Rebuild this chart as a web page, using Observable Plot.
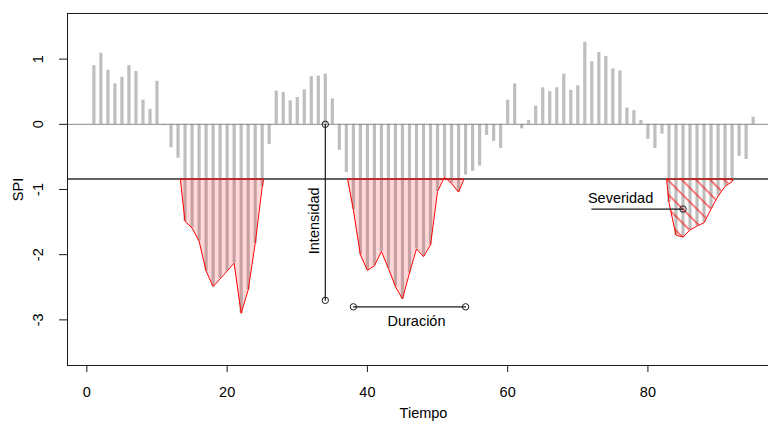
<!DOCTYPE html>
<html>
<head>
<meta charset="utf-8">
<script src="https://cdn.jsdelivr.net/npm/d3@7"></script>
<script src="https://cdn.jsdelivr.net/npm/@observablehq/plot@0.6"></script>
<style>
  body { margin: 0; background: #fff; }
  #chart { width: 768px; height: 421px; overflow: hidden; }
</style>
</head>
<body>
<div id="chart"></div>
<script>
// ---- data ----
const spi = [
  0.90, 1.09, 0.83, 0.62, 0.72, 0.90, 0.81, 0.37, 0.23, 0.66,
  -0.02, -0.36, -0.52, -1.49, -1.59, -1.79, -2.25, -2.49, -2.37, -2.25,
  -2.13, -2.90, -2.54, -1.83, -0.96, -0.31, 0.51, 0.49, 0.36, 0.41,
  0.53, 0.73, 0.74, 0.77, 0.39, -0.40, -0.74, -1.31, -2.00, -2.24,
  -2.17, -1.95, -2.21, -2.49, -2.68, -2.28, -1.91, -2.03, -1.85, -1.03,
  -0.81, -0.91, -1.04, -0.78, -0.72, -0.64, -0.17, -0.26, -0.37, 0.37,
  0.62, -0.07, 0.06, 0.28, 0.56, 0.50, 0.56, 0.77, 0.52, 0.59,
  1.26, 0.96, 1.10, 1.04, 0.85, 0.82, 0.25, 0.21, 0.06, -0.23,
  -0.37, -0.15, -1.20, -1.70, -1.73, -1.62, -1.56, -1.51, -1.30, -1.10,
  -0.95, -0.88, -0.49, -0.54, 0.11
];
const tiempo = spi.map((_, i) => i + 1);
const umbral = -0.84;
const eventoInicio = [14, 38, 83];
const eventoFin = [25, 53, 92];
const eventoTipo = ["relleno", "relleno", "rayado"];
const xTicks = [0, 20, 40, 60, 80];
const yTicks = [-3, -2, -1, 0, 1];
const yLim = [-3.5, 1.5];
const intensidadX = [34, 34];
const intensidadY = [0, -2.7];
const duracionX = [38, 54];
const duracionY = [-2.8, -2.8];
const severidadX = [72, 85];
const severidadY = [-1.3, -1.3];
const etiquetas = ["Intensidad", "Duración", "Severidad"];
const etiquetaX = [32.4, 47, 76.1];
const etiquetaY = [-1.48, -3.03, -1.13];
const etiquetaRot = [-90, 0, 0];

// ---- derived tables ----
const n = spi.length;
const xPad = 0.04 * (n - 1);
const xDominio = [1 - xPad, n + xPad];
const yPad = 0.04 * (yLim[1] - yLim[0]);
const yDominio = [yLim[0] - yPad, yLim[1] + yPad];

const serie = spi.map((v, i) => ({t: tiempo[i], v}));

const poligonos = [];
const cerrados = [];
eventoInicio.forEach((s, k) => {
  const e = eventoFin[k];
  const ya = spi[s - 2], yb = spi[s - 1];
  const x0 = (s - 1) + (umbral - ya) / (yb - ya);
  const yc = spi[e - 1], yd = spi[e];
  const x1 = e + (umbral - yc) / (yd - yc);
  const pts = [{x: x0, y: umbral}];
  for (let i = s; i <= e; i++) pts.push({x: tiempo[i - 1], y: spi[i - 1]});
  pts.push({x: x1, y: umbral});
  pts.forEach(p => { p.ev = k; p.tipo = eventoTipo[k]; p.y1 = umbral; });
  poligonos.push(...pts);
  cerrados.push(...pts, {...pts[0]});
});
const relleno = poligonos.filter(p => p.tipo === "relleno");
const rayado = poligonos.filter(p => p.tipo === "rayado");

const segmentos = [
  ...intensidadX.map((x, i) => ({x, y: intensidadY[i], g: "int"})),
  ...duracionX.map((x, i) => ({x, y: duracionY[i], g: "dur"})),
  ...severidadX.map((x, i) => ({x, y: severidadY[i], g: "sev"}))
];
const circulos = [
  ...intensidadX.map((x, i) => ({x, y: intensidadY[i]})),
  ...duracionX.map((x, i) => ({x, y: duracionY[i]})),
  {x: severidadX[1], y: severidadY[1]}
];
const textos = etiquetas.map((t, i) => ({t, x: etiquetaX[i], y: etiquetaY[i], r: etiquetaRot[i]}));

const FS = 14.5;
const TXT = {fontSize: FS, fill: "#000", textAnchor: "middle", lineAnchor: "middle"};
const chart = Plot.plot({
  width: 768,
  height: 421,
  marginLeft: 67,
  marginRight: -11,
  marginTop: 13,
  marginBottom: 56,
  x: {domain: xDominio},
  y: {domain: yDominio},
  style: {
    fontFamily: "'Liberation Sans', Arial, sans-serif",
    fontSize: FS + "px",
    color: "#000",
    background: "#fff",
    overflow: "visible"
  },
  marks: [
    Plot.ruleX(serie, {x: "t", y1: 0, y2: "v", stroke: "#bebebe", strokeWidth: 3.2}),
    Plot.ruleY([0], {stroke: "#8a8a8a", strokeWidth: 1}),
    Plot.ruleY([umbral], {stroke: "#646464", strokeWidth: 2}),
    Plot.areaY(relleno, {x: "x", y1: "y1", y2: "y", z: "ev", fill: "#ff0000", fillOpacity: 0.15}),
    Plot.areaY(rayado, {x: "x", y1: "y1", y2: "y", z: "ev", fill: "url(#rayado)"}),
    Plot.line(cerrados, {x: "x", y: "y", z: "ev", stroke: "#ff0000", strokeWidth: 1}),
    Plot.line(segmentos, {x: "x", y: "y", z: "g", stroke: "#1a1a1a", strokeWidth: 1.2}),
    Plot.dot(circulos, {x: "x", y: "y", r: 3.2, stroke: "#1a1a1a", fill: "none", strokeWidth: 1}),
    Plot.text(textos, {x: "x", y: "y", text: "t", rotate: "r", ...TXT}),
    Plot.frame({stroke: "#1a1a1a", strokeWidth: 1}),
    Plot.axisX(xTicks, {tickSize: 7, tickFormat: () => "", label: null, stroke: "#1a1a1a"}),
    Plot.axisY(yTicks, {tickSize: 8, tickFormat: () => "", label: null, stroke: "#1a1a1a"}),
    Plot.text(xTicks, {x: d => d, text: d => String(d), frameAnchor: "bottom", dy: 27, ...TXT}),
    Plot.text(yTicks, {y: d => d, text: d => String(d), frameAnchor: "left", dx: -29.5, rotate: -90, ...TXT}),
    Plot.text(["Tiempo"], {frameAnchor: "bottom", dy: 47.5, text: d => d, ...TXT}),
    Plot.text(["SPI"], {frameAnchor: "left", dx: -49.5, rotate: -90, text: d => d, ...TXT})
  ]
});

// hatch pattern definition for the severity polygon
const defs = d3.select(chart).insert("defs", ":first-child");
const pat = defs.append("pattern")
  .attr("id", "rayado")
  .attr("patternUnits", "userSpaceOnUse")
  .attr("width", 10)
  .attr("height", 10)
  .attr("patternTransform", "rotate(-45)");
pat.append("line")
  .attr("x1", 5).attr("y1", -1).attr("x2", 5).attr("y2", 11)
  .attr("stroke", "#ff0000").attr("stroke-width", 1);

document.getElementById("chart").appendChild(chart);
</script>
</body>
</html>
